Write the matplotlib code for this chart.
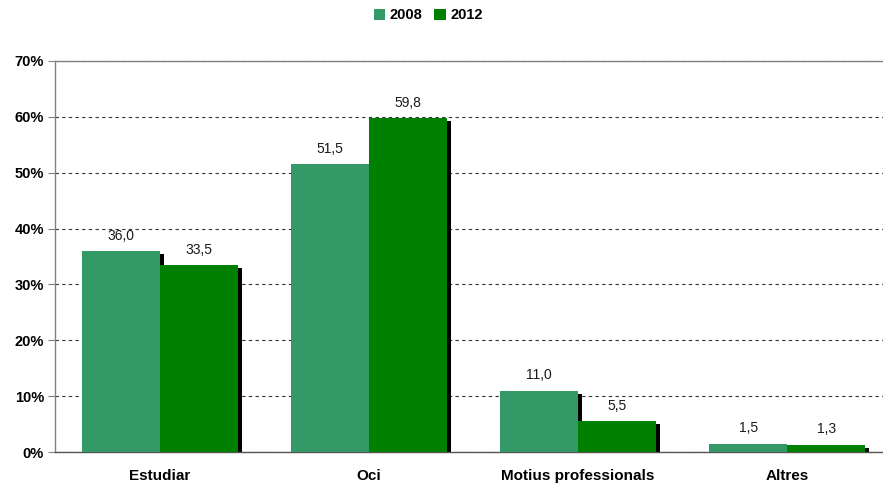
import matplotlib
matplotlib.use("Agg")
import matplotlib.pyplot as plt
import numpy as np
from matplotlib.patches import Patch
from matplotlib.transforms import ScaledTranslation

categories = ["Estudiar", "Oci", "Motius professionals", "Altres"]
series_names = ["2008", "2012"]
values_2008 = [36.0, 51.5, 11.0, 1.5]
values_2012 = [33.5, 59.8, 5.5, 1.3]
yticks = [0, 10, 20, 30, 40, 50, 60, 70]
colors = ["#339966", "#008000"]

plt.rcParams['font.family'] = ['Liberation Sans', 'DejaVu Sans']

fig = plt.figure(figsize=(8.83, 4.87), dpi=100)
ax = fig.add_axes([55/883, 1-452/487, 837/883, 391/487])

x = np.arange(len(categories))
w = 0.373
shadow = ScaledTranslation(4/fig.dpi, -3/fig.dpi, fig.dpi_scale_trans)

for i, (vals, col) in enumerate(zip([values_2008, values_2012], colors)):
    pos = x - w/2 + i*w
    ax.bar(pos, vals, width=w, color="black", zorder=2, linewidth=0,
           transform=ax.transData + shadow)
    ax.bar(pos, vals, width=w, color=col, zorder=3, linewidth=0)
    for p, v in zip(pos, vals):
        ax.annotate(f"{v:.1f}".replace(".", ","), (p, v), xytext=(0, 6),
                    textcoords="offset points", ha="center", va="bottom",
                    fontsize=10, color="#1a1a1a", zorder=5)

ax.set_xlim(-0.5, len(categories) - 0.5)
ax.set_ylim(0, 70)
ax.set_yticks(yticks)
ax.set_yticklabels([f"{t}%" for t in yticks], fontsize=10.5, fontweight="bold")
ax.set_xticks(x)
ax.set_xticklabels(categories, fontsize=11, fontweight="bold")
ax.tick_params(axis="x", length=0, pad=12)
ax.tick_params(axis="y", length=5, color="#808080", direction="out", pad=3)
ax.yaxis.grid(True, linestyle=(0, (3, 3)), color="#333333", linewidth=0.8, zorder=0)
ax.set_axisbelow(True)
for s in ["left", "bottom", "top"]:
    ax.spines[s].set_color("#808080")
    ax.spines[s].set_linewidth(1)
ax.spines["bottom"].set_color("#555555")
ax.spines["right"].set_visible(False)

handles = [Patch(facecolor=c, edgecolor="none") for c in colors]
fig.legend(handles, series_names, loc="upper center", bbox_to_anchor=(0.485, 1.01),
           ncol=2, frameon=False, prop={"weight": "bold", "size": 10.5},
           handlelength=0.8, handleheight=0.8, handletextpad=0.3, columnspacing=0.8)

fig.savefig("out.png", dpi=100)
